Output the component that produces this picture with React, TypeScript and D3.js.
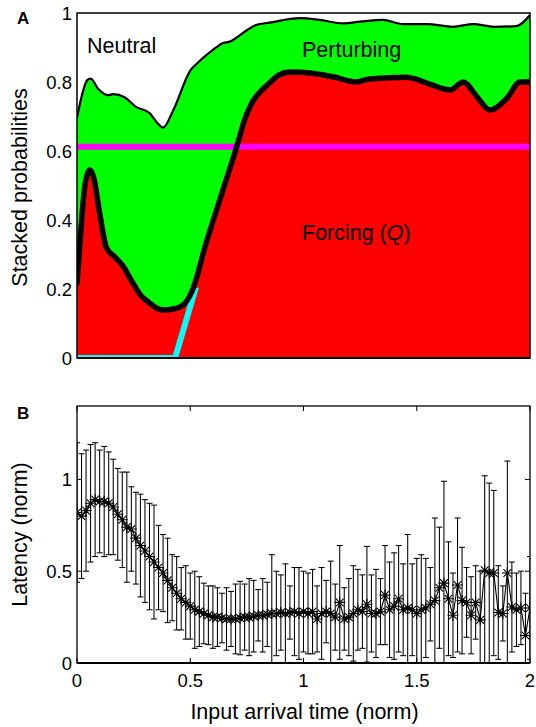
import React from "react";
import * as d3 from "d3";

// ---------- Panel A data ----------
const perturbEdgeX = [0, 0.046, 0.06, 0.094, 0.14, 0.16, 0.21, 0.26, 0.32, 0.35, 0.38, 0.425, 0.5, 0.54, 0.6, 0.645, 0.675, 0.72, 0.75, 0.79, 0.85, 0.985, 1.07, 1.175, 1.25, 1.35, 1.44, 1.545, 1.66, 1.75, 1.84, 1.94, 2.0];
const perturbEdgeY = [0.696, 0.806, 0.81, 0.78, 0.762, 0.765, 0.756, 0.728, 0.71, 0.685, 0.668, 0.718, 0.833, 0.86, 0.893, 0.913, 0.917, 0.936, 0.95, 0.965, 0.972, 0.985, 0.98, 0.97, 0.975, 0.98, 0.968, 0.968, 0.96, 0.968, 0.96, 0.962, 0.994];

const forcingEdgeX = [0, 0.015, 0.035, 0.057, 0.075, 0.1, 0.13, 0.167, 0.205, 0.24, 0.28, 0.32, 0.35, 0.38, 0.425, 0.47, 0.51, 0.57, 0.64, 0.705, 0.74, 0.78, 0.81, 0.85, 0.89, 0.94, 1.03, 1.13, 1.235, 1.29, 1.455, 1.545, 1.647, 1.705, 1.766, 1.823, 1.898, 1.956, 2.0];
const forcingEdgeY = [0.217, 0.35, 0.5, 0.545, 0.52, 0.42, 0.32, 0.293, 0.265, 0.225, 0.183, 0.16, 0.145, 0.139, 0.142, 0.154, 0.197, 0.333, 0.478, 0.612, 0.69, 0.748, 0.772, 0.797, 0.82, 0.829, 0.826, 0.815, 0.8, 0.809, 0.814, 0.797, 0.777, 0.8, 0.757, 0.719, 0.753, 0.8, 0.8];

const thresholdQ = 0.612;
const cyanX = [0, 0.433, 0.525];
const cyanY = [0, 0, 0.205];

const probTicks = [0, 0.2, 0.4, 0.6, 0.8, 1];
const probTickLabels = ["0", "0.2", "0.4", "0.6", "0.8", "1"];

// ---------- Panel B data ----------
const timeTicks = [0, 0.5, 1, 1.5, 2];
const timeTickLabels = ["0", "0.5", "1", "1.5", "2"];
const latencyTicks = [0, 0.5, 1];
const latencyTickLabels = ["0", "0.5", "1"];

const inputTimes = d3.range(101).map((i) => +(i * 0.02).toFixed(2));
const latencyMean = [
  0.82, 0.8, 0.83, 0.87, 0.89, 0.88, 0.88, 0.87, 0.85, 0.81,
  0.78, 0.74, 0.73, 0.68, 0.64, 0.61, 0.58, 0.55, 0.52, 0.49,
  0.45, 0.41, 0.38, 0.35, 0.33, 0.31, 0.29, 0.28, 0.27, 0.26,
  0.25, 0.25, 0.245, 0.24, 0.24, 0.24, 0.245, 0.25, 0.25, 0.255,
  0.26, 0.26, 0.265, 0.27, 0.27, 0.275, 0.27, 0.275, 0.28, 0.27,
  0.28, 0.27, 0.28, 0.24, 0.27, 0.28, 0.27, 0.25, 0.33, 0.24,
  0.25, 0.27, 0.29, 0.28, 0.32, 0.27, 0.27, 0.28, 0.37, 0.29,
  0.31, 0.35, 0.29, 0.3, 0.29, 0.27, 0.29, 0.3, 0.32, 0.34,
  0.41, 0.435, 0.35, 0.26, 0.425, 0.34, 0.33, 0.26, 0.33, 0.235,
  0.505, 0.49, 0.49, 0.275, 0.27, 0.49, 0.305, 0.29, 0.3, 0.15,
  0.3,
];
const latencySD = [
  0.38, 0.34, 0.33, 0.32, 0.31, 0.28, 0.3, 0.28, 0.26, 0.25,
  0.26, 0.3, 0.23, 0.25, 0.28, 0.28, 0.29, 0.31, 0.23, 0.21,
  0.23, 0.18, 0.2, 0.17, 0.2, 0.18, 0.21, 0.19, 0.165, 0.16,
  0.17, 0.16, 0.135, 0.17, 0.15, 0.19, 0.2, 0.18, 0.21, 0.195,
  0.14, 0.2, 0.175, 0.32, 0.23, 0.205, 0.27, 0.145, 0.24, 0.25,
  0.22, 0.22, 0.23, 0.18, 0.25, 0.17, 0.285, 0.18, 0.31, 0.17,
  0.21, 0.26, 0.22, 0.2, 0.315, 0.21, 0.24, 0.18, 0.27, 0.26,
  0.29, 0.29, 0.25, 0.4, 0.25, 0.3, 0.3, 0.27, 0.2, 0.45,
  0.33, 0.555, 0.31, 0.23, 0.365, 0.29, 0.19, 0.21, 0.2, 0.265,
  0.515, 0.49, 0.45, 0.255, 0.15, 0.61, 0.245, 0.2, 0.2, 0.23,
  0.28,
];

const FONT = "'Liberation Sans', Arial, Helvetica, sans-serif";

export default function App() {
  const W = 536;
  const H = 727;
  const left = 77;
  const right = 530;

  // Panel A
  const aTop = 13;
  const aBottom = 358;
  const xA = d3.scaleLinear().domain([0, 2]).range([left, right]);
  const yA = d3.scaleLinear().domain([0, 1]).range([aBottom, aTop]);

  const perturbPts = perturbEdgeX.map((x, i) => [x, perturbEdgeY[i]] as [number, number]);
  const forcingPts = forcingEdgeX.map((x, i) => [x, forcingEdgeY[i]] as [number, number]);
  const cyanPts = cyanX.map((x, i) => [x, cyanY[i]] as [number, number]);

  const areaA = d3
    .area<[number, number]>()
    .x((d) => xA(d[0]))
    .y0(yA(0))
    .y1((d) => yA(d[1]))
    .curve(d3.curveMonotoneX);
  const lineA = d3
    .line<[number, number]>()
    .x((d) => xA(d[0]))
    .y((d) => yA(d[1]))
    .curve(d3.curveMonotoneX);
  const lineLin = d3
    .line<[number, number]>()
    .x((d) => xA(d[0]))
    .y((d) => yA(d[1]));

  const forcingArea = areaA(forcingPts) || "";

  // Panel B
  const bTop = 406;
  const bBottom = 663;
  const xB = d3.scaleLinear().domain([0, 2]).range([left, right]);
  const yB = d3.scaleLinear().domain([0, 1.4]).range([bBottom, bTop]);

  const meanLine = d3
    .line<number>()
    .x((_, i) => xB(inputTimes[i]))
    .y((d) => yB(d));

  const tickLen = 5;
  const r = 5.5;
  const dd = 3.9;
  const starPath = `M${-r},0H${r}M0,${-r}V${r}M${-dd},${-dd}L${dd},${dd}M${-dd},${dd}L${dd},${-dd}`;

  return (
    <svg
      width={W}
      height={H}
      style={{ position: "absolute", left: 0, top: 0, background: "#fff" }}
      fontFamily={FONT}
    >
      <defs>
        <clipPath id="clipA">
          <rect x={left} y={aTop} width={right - left} height={aBottom - aTop} />
        </clipPath>
        <clipPath id="clipForcing">
          <path d={forcingArea} />
        </clipPath>
        <clipPath id="clipB">
          <rect x={left} y={bTop} width={right - left} height={bBottom - bTop} />
        </clipPath>
      </defs>
      <rect x={0} y={0} width={W} height={H} fill="#fff" />

      {/* ---------- Panel A ---------- */}
      <g clipPath="url(#clipA)">
        <path d={areaA(perturbPts) || ""} fill="#00ff00" />
        <path d={forcingArea} fill="#ff0000" />
        <g clipPath="url(#clipForcing)">
          <path d={lineLin(cyanPts) || ""} fill="none" stroke="#00ffff" strokeWidth={6} strokeLinejoin="round" />
        </g>
        <line x1={xA(0)} x2={xA(2)} y1={yA(thresholdQ)} y2={yA(thresholdQ)} stroke="#ff00ff" strokeWidth={6} />
        <path d={lineA(perturbPts) || ""} fill="none" stroke="#000" strokeWidth={2.2} strokeLinejoin="round" />
        <path d={lineA(forcingPts) || ""} fill="none" stroke="#000" strokeWidth={5.5} strokeLinejoin="round" strokeLinecap="round" />
      </g>
      <rect x={left} y={aTop} width={right - left} height={aBottom - aTop} fill="none" stroke="#000" strokeWidth={1.5} />
      <line x1={left} x2={right} y1={aBottom} y2={aBottom} stroke="#000" strokeWidth={2} />
      {probTicks.map((t, i) => (
        <text key={"pa" + i} x={72} y={yA(t)} dy="0.36em" textAnchor="end" fontSize={18.5} fill="#000">
          {probTickLabels[i]}
        </text>
      ))}
      <text x={87} y={53} fontSize={21.5} fill="#000">Neutral</text>
      <text x={302} y={57} fontSize={21.5} fill="#000">Perturbing</text>
      <text x={302} y={240} fontSize={21.5} fill="#000">
        Forcing (<tspan fontStyle="italic">Q</tspan>)
      </text>
      <text
        transform={`translate(27,${(aTop + aBottom) / 2 + 2}) rotate(-90)`}
        textAnchor="middle"
        fontSize={21.5}
        fill="#000"
      >
        Stacked probabilities
      </text>
      <text x={17} y={24} fontSize={17} fontWeight="bold" fill="#000">A</text>

      {/* ---------- Panel B ---------- */}
      <g clipPath="url(#clipB)">
        {inputTimes.map((t, i) => {
          const m = latencyMean[i];
          const s = latencySD[i];
          const x = xB(t);
          const yHi = yB(m + s);
          const yLo = yB(m - s);
          return (
            <g key={"eb" + i} stroke="#000" strokeWidth={1.05}>
              <line x1={x} x2={x} y1={yHi} y2={yLo} />
              <line x1={x - 3} x2={x + 3} y1={yHi} y2={yHi} />
              <line x1={x - 3} x2={x + 3} y1={yLo} y2={yLo} />
            </g>
          );
        })}
        <path d={meanLine(latencyMean) || ""} fill="none" stroke="#000" strokeWidth={1.1} />
        {inputTimes.map((t, i) => (
          <path
            key={"st" + i}
            d={starPath}
            transform={`translate(${xB(t)},${yB(latencyMean[i])})`}
            stroke="#000"
            strokeWidth={1.1}
            fill="none"
          />
        ))}
      </g>
      <rect x={left} y={bTop} width={right - left} height={bBottom - bTop} fill="none" stroke="#000" strokeWidth={1.3} />
      <line x1={left} x2={right} y1={bBottom} y2={bBottom} stroke="#000" strokeWidth={2} />
      {timeTicks.map((t, i) => (
        <g key={"xt" + i}>
          <line x1={xB(t)} x2={xB(t)} y1={bBottom} y2={bBottom - tickLen} stroke="#000" strokeWidth={1} />
          <line x1={xB(t)} x2={xB(t)} y1={bTop} y2={bTop + tickLen} stroke="#000" strokeWidth={1} />
          <text x={xB(t)} y={687} textAnchor="middle" fontSize={18.5} fill="#000">
            {timeTickLabels[i]}
          </text>
        </g>
      ))}
      {latencyTicks.map((t, i) => (
        <g key={"yt" + i}>
          <line x1={left} x2={left + tickLen} y1={yB(t)} y2={yB(t)} stroke="#000" strokeWidth={1} />
          <line x1={right} x2={right - tickLen} y1={yB(t)} y2={yB(t)} stroke="#000" strokeWidth={1} />
          <text x={72} y={yB(t)} dy="0.36em" textAnchor="end" fontSize={18.5} fill="#000">
            {latencyTickLabels[i]}
          </text>
        </g>
      ))}
      <text x={(left + right) / 2 + 1} y={719} textAnchor="middle" fontSize={21.5} fill="#000">
        Input arrival time (norm)
      </text>
      <text
        transform={`translate(27,${(bTop + bBottom) / 2}) rotate(-90)`}
        textAnchor="middle"
        fontSize={21.5}
        fill="#000"
      >
        Latency (norm)
      </text>
      <text x={17} y={419} fontSize={17} fontWeight="bold" fill="#000">B</text>
    </svg>
  );
}
